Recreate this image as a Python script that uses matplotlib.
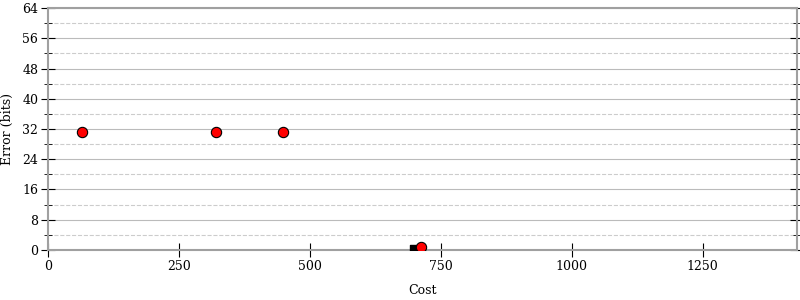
import numpy as np
import matplotlib.pyplot as plt
from matplotlib.ticker import MultipleLocator

plt.rcParams['font.family'] = 'DejaVu Serif'
plt.rcParams['font.size'] = 9

# points
red_cost = [65, 320, 449, 712]
red_err = [31.3, 31.2, 31.2, 0.7]
best_cost = [700]
best_err = [0]

fig = plt.figure(figsize=(8, 3), dpi=100)
ax = fig.add_axes([0.06, 0.167, 0.936, 0.806])

ax.scatter(red_cost, red_err, s=55, c='red', edgecolors='black', linewidths=0.8, zorder=4)
ax.scatter(best_cost, best_err, s=55, c='black', marker='s', zorder=3)

ax.set_xlim(0, 1430)
ax.set_ylim(0, 64)
ax.xaxis.set_major_locator(MultipleLocator(250))
ax.yaxis.set_major_locator(MultipleLocator(8))
ax.yaxis.set_minor_locator(MultipleLocator(4))

ax.grid(True, axis='y', which='major', color='#bbbbbb', linestyle='-', linewidth=0.8)
ax.grid(True, axis='y', which='minor', color='#cccccc', linestyle='--', linewidth=0.8)
ax.set_axisbelow(True)

for s in ax.spines.values():
    s.set_color('#a0a0a0')
    s.set_linewidth(1.5)
    s.set_zorder(1)

ax.tick_params(axis='y', which='major', direction='inout', length=10, right=True, pad=2)
ax.tick_params(axis='y', which='minor', direction='inout', length=6, right=True)
ax.tick_params(axis='x', which='major', direction='inout', length=10, pad=2)

ax.set_xlabel('Cost', labelpad=8)
ax.set_ylabel('Error (bits)', labelpad=6)

fig.savefig('out.png')
